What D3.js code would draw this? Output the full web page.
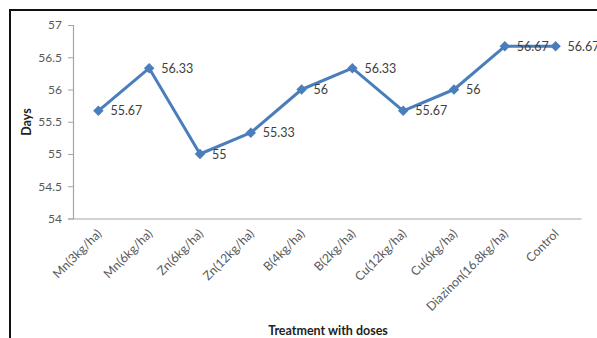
<!DOCTYPE html>
<html>
<head>
<meta charset="utf-8">
<script src="https://cdn.jsdelivr.net/npm/d3@7"></script>
<style>
  html, body { margin: 0; padding: 0; background: #fff; }
  svg { display: block; }
  text { font-family: Lato, "Open Sans", sans-serif; }
</style>
</head>
<body>
<svg id="chart" width="597" height="338"></svg>
<script>
// Days to maturity under each treatment
const treatments = ["Mn(3kg/ha)", "Mn(6kg/ha)", "Zn(6kg/ha)", "Zn(12kg/ha)", "B(4kg/ha)",
  "B(2kg/ha)", "Cu(12kg/ha)", "Cu(6kg/ha)", "Diazinon(16.8kg/ha)", "Control"];
const days = [55.67, 56.33, 55, 55.33, 56, 56.33, 55.67, 56, 56.67, 56.67];
const yTicks = [54, 54.5, 55, 55.5, 56, 56.5, 57];

const svg = d3.select("#chart");

// outer frame (top and left edges)
svg.append("path")
  .attr("d", "M10,338 L10,10 L597,10")
  .attr("fill", "none").attr("stroke", "#111").attr("stroke-width", 2);

const x = d3.scaleBand().domain(treatments).range([73, 581]);
const y = d3.scaleLinear().domain([54, 57]).range([218.5, 25]);

// y axis
const yAxis = svg.append("g").attr("transform", "translate(73,0)")
  .call(d3.axisLeft(y).tickValues(yTicks).tickSize(5).tickPadding(6).tickFormat(d3.format("")));
yAxis.select(".domain").attr("stroke", "#a6a6a6").attr("stroke-width", 1.2);
yAxis.selectAll(".tick line").attr("stroke", "#a6a6a6");
yAxis.selectAll(".tick text").attr("fill", "#595959").attr("font-size", 12);

// x axis
const xAxis = svg.append("g").attr("transform", "translate(0,218.5)")
  .call(d3.axisBottom(x).tickSize(0).tickSizeOuter(0));
xAxis.select(".domain").attr("stroke", "#a6a6a6").attr("stroke-width", 1.2);
xAxis.selectAll(".tick text")
  .attr("fill", "#595959").attr("font-size", 12.3)
  .attr("text-anchor", "end")
  .attr("dy", null).attr("y", 0)
  .attr("transform", "translate(4,16) rotate(-45)");

// series line
const cx = d => x(d) + x.bandwidth() / 2;
const pts = treatments.map((t, i) => [cx(t), y(days[i])]);
svg.append("path")
  .attr("d", d3.line()(pts))
  .attr("fill", "none").attr("stroke", "#4a7ebb").attr("stroke-width", 3)
  .attr("stroke-linejoin", "round");

// diamond markers
svg.append("g").selectAll("path").data(pts).join("path")
  .attr("transform", d => `translate(${d[0]},${d[1]})`)
  .attr("d", d3.symbol(d3.symbolDiamond2, 70)())
  .attr("fill", "#4a7ebb");

// value labels
svg.append("g").selectAll("text").data(days).join("text")
  .attr("x", (d, i) => pts[i][0] + 12)
  .attr("y", (d, i) => pts[i][1])
  .attr("dy", "0.36em")
  .attr("font-size", 12.5).attr("fill", "#404040")
  .text(d => d3.format("")(d));

// axis titles
svg.append("text")
  .attr("x", 328).attr("y", 335)
  .attr("text-anchor", "middle").attr("font-weight", "bold")
  .attr("font-size", 12.5).attr("fill", "#222")
  .text("Treatment with doses");
svg.append("text")
  .attr("transform", "translate(31,122) rotate(-90)")
  .attr("text-anchor", "middle").attr("font-weight", "bold")
  .attr("font-size", 12.5).attr("fill", "#222")
  .text("Days");
</script>
</body>
</html>
